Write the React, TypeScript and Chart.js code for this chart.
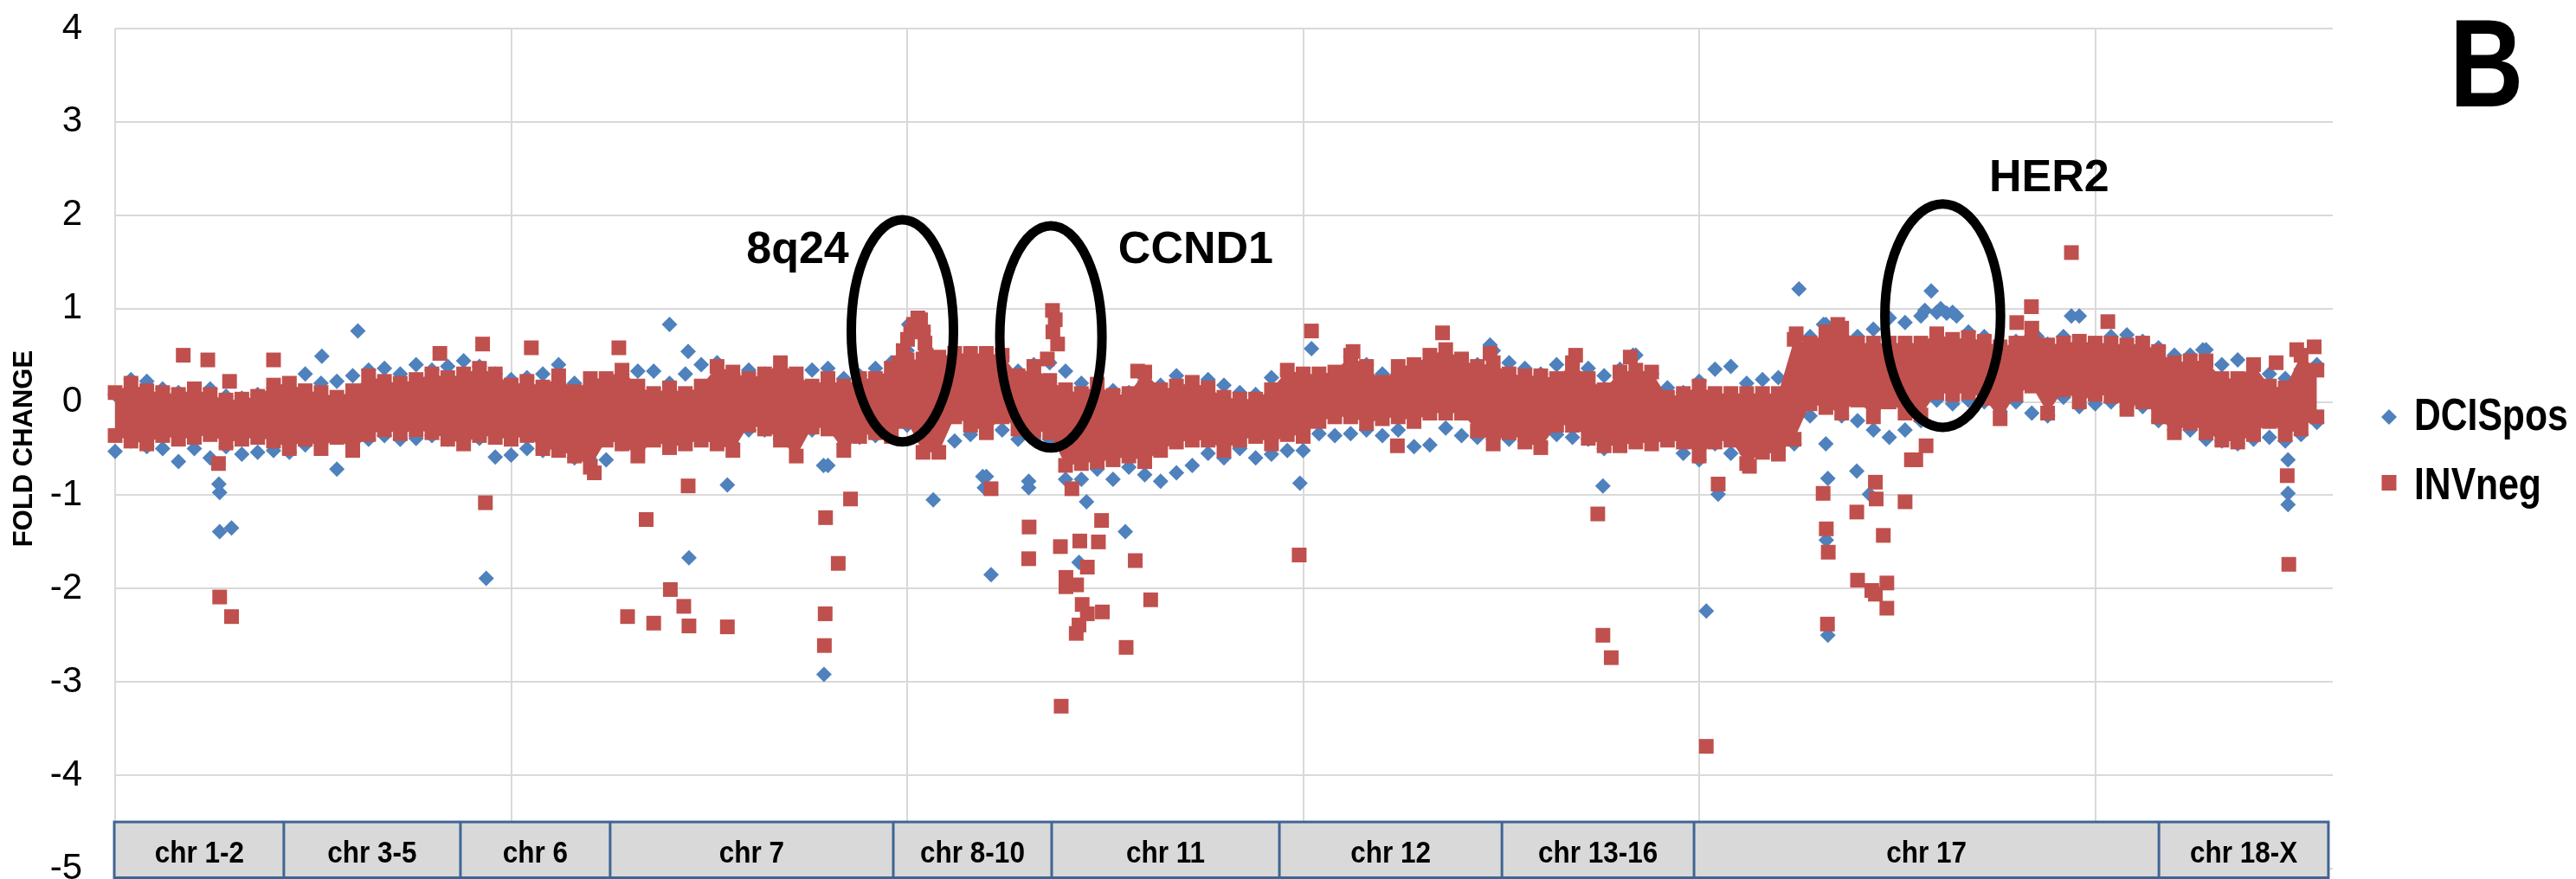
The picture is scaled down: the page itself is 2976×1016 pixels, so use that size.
import React, { useEffect, useRef } from 'react';
import { Chart, registerables } from 'chart.js';

Chart.register(...registerables);

// ---------------- data ----------------
const X_MAX = 5600;
const X_GRID = [0, 1000, 2000, 3000, 4000, 5000];
const Y_MIN = -5;
const Y_MAX = 4;
const BAND_STEP = 40; // probe-index spacing of the band samples below

// INVneg dense band: upper / lower edge samples (every 40 probes, from probe 0)
const INV_UPPER = [
  0.10, 0.20, 0.12, 0.10, 0.08, 0.14, 0.08, 0.02, 0.03, 0.06, 0.18, 0.20, 0.12, 0.10, 0.05, 0.12, 0.28, 0.22, 0.20, 0.24, 0.30, 0.26, 0.30, 0.36, 0.30, 0.18, 0.22, 0.16, 0.28,
  0.11, 0.25, 0.25, 0.34, 0.17, 0.09, 0.15, 0.09, 0.17, 0.38, 0.32, 0.25, 0.30, 0.42, 0.30, 0.17, 0.25, 0.17, 0.25, 0.25, 0.36, 0.45, 0.46, 0.48, 0.52, 0.52, 0.52, 0.50,
  0.28, 0.38, 0.23, 0.13, 0.09, 0.19, 0.07, 0.09, 0.32, 0.13, 0.17, 0.21, 0.15, 0.05, 0.03, 0.03, 0.13, 0.34, 0.30, 0.30, 0.32, 0.50, 0.38, 0.21, 0.38, 0.40, 0.50, 0.56, 0.46,
  0.38, 0.42, 0.30, 0.28, 0.28, 0.25, 0.42, 0.25, 0.13, 0.32, 0.34, 0.32, 0.05, 0.09, 0.17, 0.09, 0.09, 0.09, 0.09, 0.09, 0.67, 0.63, 0.75, 0.79, 0.63, 0.63, 0.63, 0.63,
  0.63, 0.73, 0.67, 0.69, 0.65, 0.59, 0.63, 0.79, 0.61, 0.63, 0.65, 0.63, 0.63, 0.61, 0.63, 0.54, 0.42, 0.44, 0.44, 0.25, 0.25, 0.40, 0.17, 0.15, 0.50, 0.34,
];
const INV_LOWER = [
  -0.36, -0.42, -0.45, -0.36, -0.40, -0.38, -0.35, -0.44, -0.40, -0.38, -0.42, -0.50, -0.40, -0.50, -0.38, -0.52, -0.35, -0.30, -0.34, -0.30, -0.33, -0.40, -0.45, -0.36, -0.38, -0.40, -0.36, -0.50, -0.52,
  -0.58, -0.70, -0.41, -0.45, -0.58, -0.41, -0.49, -0.45, -0.41, -0.45, -0.52, -0.25, -0.29, -0.41, -0.58, -0.27, -0.29, -0.52, -0.37, -0.33, -0.37, -0.21, -0.54, -0.54, -0.16, -0.25, -0.33, -0.16,
  -0.29, -0.31, -0.33, -0.68, -0.66, -0.64, -0.62, -0.58, -0.64, -0.52, -0.43, -0.41, -0.41, -0.52, -0.41, -0.37, -0.45, -0.35, -0.37, -0.21, -0.16, -0.16, -0.23, -0.18, -0.16, -0.21, -0.12, -0.12, -0.12,
  -0.31, -0.45, -0.33, -0.43, -0.49, -0.25, -0.25, -0.39, -0.47, -0.47, -0.43, -0.45, -0.41, -0.43, -0.58, -0.43, -0.41, -0.66, -0.54, -0.56, -0.40, -0.02, -0.06, -0.12, 0.02, -0.16, 0.00, -0.12,
  -0.14, 0.10, 0.08, 0.10, 0.04, -0.18, 0.08, 0.17, -0.12, 0.13, 0.00, 0.08, 0.06, -0.08, 0.00, -0.16, -0.33, -0.23, -0.33, -0.41, -0.43, -0.35, -0.21, -0.35, -0.29, -0.16,
];

// DCISpos dense band: upper / lower edge samples (same probe spacing)
const DCIS_UPPER = [
  0.08, 0.24, 0.22, 0.14, 0.10, 0.06, 0.14, 0.06, 0.04, 0.08, 0.15, 0.12, 0.30, 0.20, 0.22, 0.28, 0.34, 0.36, 0.30, 0.40, 0.34, 0.38, 0.44, 0.38, 0.30, 0.24, 0.26, 0.30, 0.40,
  0.20, 0.10, 0.18, 0.30, 0.33, 0.33, 0.20, 0.30, 0.40, 0.42, 0.30, 0.34, 0.30, 0.30, 0.25, 0.34, 0.36, 0.25, 0.28, 0.36, 0.42, 0.55, 0.70, 0.45, 0.45, 0.45, 0.45, 0.48,
  0.33, 0.40, 0.42, 0.33, 0.20, 0.10, 0.12, 0.10, 0.22, 0.18, 0.28, 0.18, 0.24, 0.18, 0.10, 0.08, 0.26, 0.30, 0.28, 0.28, 0.24, 0.48, 0.40, 0.30, 0.30, 0.36, 0.40, 0.40, 0.44,
  0.40, 0.55, 0.42, 0.36, 0.30, 0.40, 0.40, 0.36, 0.28, 0.35, 0.50, 0.30, 0.15, 0.10, 0.22, 0.35, 0.38, 0.20, 0.24, 0.26, 0.30, 0.70, 0.83, 0.70, 0.70, 0.78, 0.90, 0.85,
  0.92, 0.96, 0.96, 0.75, 0.70, 0.62, 0.65, 0.70, 0.62, 0.70, 0.92, 0.60, 0.70, 0.72, 0.65, 0.58, 0.50, 0.50, 0.56, 0.40, 0.45, 0.38, 0.30, 0.25, 0.35, 0.40,
];
const DCIS_LOWER = [
  -0.53, -0.42, -0.48, -0.50, -0.64, -0.50, -0.60, -0.48, -0.56, -0.54, -0.52, -0.54, -0.46, -0.44, -0.72, -0.44, -0.40, -0.36, -0.40, -0.39, -0.36, -0.40, -0.42, -0.39, -0.59, -0.57, -0.50, -0.52, -0.48,
  -0.60, -0.62, -0.62, -0.45, -0.50, -0.40, -0.45, -0.42, -0.40, -0.40, -0.45, -0.30, -0.30, -0.40, -0.38, -0.30, -0.68, -0.45, -0.38, -0.36, -0.36, -0.25, -0.24, -0.25, -0.42, -0.35, -0.80, -0.30,
  -0.40, -0.40, -0.40, -0.83, -0.83, -0.72, -0.83, -0.70, -0.78, -0.85, -0.76, -0.68, -0.55, -0.60, -0.50, -0.60, -0.56, -0.52, -0.52, -0.34, -0.36, -0.34, -0.30, -0.36, -0.30, -0.48, -0.46, -0.28, -0.36,
  -0.38, -0.40, -0.40, -0.42, -0.45, -0.35, -0.38, -0.40, -0.50, -0.45, -0.40, -0.20, -0.40, -0.55, -0.62, -0.45, -0.55, -0.55, -0.52, -0.45, -0.45, -0.15, -0.45, -0.15, -0.20, -0.30, -0.38, -0.30,
  -0.20, 0.02, -0.02, 0.02, 0.00, -0.10, 0.00, -0.12, -0.15, 0.05, -0.05, -0.02, 0.00, -0.05, -0.05, -0.20, -0.30, -0.30, -0.40, -0.42, -0.45, -0.40, -0.38, -0.42, -0.35, -0.22,
];

// individual INVneg probes outside the band (probe index, fold change)
const INV_POINTS: [number, number][] = [
  [172, 0.50], [234, 0.45], [289, 0.22], [400, 0.45], [261, -0.66], [264, -2.09], [294, -2.30], [935, -1.08], [820, 0.52], [928, 0.62], [1051, 0.58],
  [1447, -0.90], [1341, -1.26], [1402, -2.01], [1294, -2.30], [1360, -2.37], [1436, -2.19], [1449, -2.40], [1546, -2.41], [1857, -1.04], [1794, -1.24],
  [1826, -1.73], [1793, -2.27], [1791, -2.61], [2212, -0.93], [1210, -0.76], [1272, 0.58],
  [1979, 0.42], [1990, 0.55], [2001, 0.67], [2009, 0.75], [2016, 0.83], [2027, 0.90], [2034, 0.88], [2041, 0.75], [2045, 0.63], [2048, 0.50], [2052, 0.42],
  [2354, 0.46], [2367, 0.98], [2374, 0.88], [2368, 0.75], [2380, 0.62],
  [2416, -0.93], [2308, -1.34], [2307, -1.68], [2387, -1.55], [2436, -1.49], [2483, -1.50], [2491, -1.27], [2455, -1.77], [2401, -1.88], [2428, -1.96],
  [2401, -1.98], [2442, -2.17], [2455, -2.27], [2493, -2.25], [2434, -2.39], [2427, -2.48], [2576, -1.70], [2615, -2.12], [2553, -2.63], [2389, -3.26],
  [2990, -1.64], [3021, 0.76], [3352, 0.74], [3238, -0.47], [3126, 0.54], [2582, 0.33],
  [3744, -1.20], [3757, -2.50], [3778, -2.74], [4048, -0.88], [4127, -0.69], [4018, -3.69], [4313, -0.98], [4321, -1.36], [4326, -1.61], [4324, -2.38],
  [4398, -1.18], [4400, -1.91], [4436, -2.02], [4445, -2.06], [4474, -1.94], [4474, -2.21], [4445, -0.86], [4447, -1.04], [4465, -1.43], [4520, -1.07],
  [4536, -0.62], [4245, 0.73], [4350, 0.83], [3688, 0.50], [3826, 0.48], [3472, 0.52],
  [5485, -0.79], [5489, -1.74], [4573, -0.47], [4547, -0.62], [4940, 1.60], [4839, 1.02], [4802, 0.85], [5032, 0.86], [5457, 0.42], [5553, 0.59], [5509, 0.56],
];

// individual DCISpos probes outside the band
const DCIS_POINTS: [number, number][] = [
  [613, 0.76], [522, 0.49], [262, -0.88], [264, -0.97], [264, -1.39], [294, -1.35], [937, -1.89],
  [1546, -0.89], [1449, -1.67], [1790, -2.92], [2066, -1.05], [2212, -1.85], [1789, -0.68], [1400, 0.83], [1447, 0.54], [2004, 0.83], [2020, 0.86], [2041, 0.76],
  [2191, -0.80], [2195, -0.92],
  [2307, -0.85], [2307, -0.92], [2434, -1.72], [2453, -1.07], [2551, -1.39], [2992, -0.87], [3021, 0.57],
  [3757, -0.90], [4048, -0.99], [4325, -0.82], [4398, -0.74], [4430, -0.99], [4321, -1.48], [4325, -2.50], [4018, -2.24], [4252, 1.21], [3472, 0.61],
  [3833, 0.50], [4314, 0.83],
  [4586, 1.19], [4570, 0.98], [4610, 1.00], [4625, 0.95], [4650, 0.92], [4853, 0.70], [4940, 0.92], [5272, 0.56], [5487, -0.62], [5487, -0.98], [5487, -1.10],
];

// chromosome groups along the probe axis
const CHR_LABELS = ['chr 1-2', 'chr 3-5', 'chr 6', 'chr 7', 'chr 8-10', 'chr 11', 'chr 12', 'chr 13-16', 'chr 17', 'chr 18-X'];
const CHR_BOUNDS = [0, 426, 872, 1250, 1965, 2365, 2940, 3502, 3987, 5161, 5589];

const SERIES_NAMES = ['DCISpos', 'INVneg'];
const HIGHLIGHT_LABELS = ['8q24', 'CCND1', 'HER2'];
const PANEL_LETTER = 'B';

// ---------------- styling / layout ----------------
const RED = '#C0504D';
const BLUE = '#4F81BD';
const GRID = '#D9D9D9';
const FONT = "'Liberation Sans', Arial, Helvetica, sans-serif";

// highlight ellipses (data coords, radii in data units) and their label anchors
const HIGHLIGHT_SHAPES = [
  { cx: 1988, cy: 0.762, rx: 129, ry: 1.19, lx: 1594, ly: 1.487 },
  { cx: 2363, cy: 0.697, rx: 129, ry: 1.19, lx: 2533, ly: 1.487 },
  { cx: 4615, cy: 0.924, rx: 146, ry: 1.196, lx: 4732, ly: 2.254 },
];

const band = (ys: number[]) => ys.map((y, i) => ({ x: i * BAND_STEP, y }));
const pts = (arr: [number, number][]) => arr.map(([x, y]) => ({ x, y }));

const overlayPlugin = {
  id: 'overlay',
  afterDraw(chart: any) {
    const { ctx, chartArea, scales } = chart;
    const xs = scales.x;
    const ys = scales.y;
    ctx.save();

    // chromosome strip
    const top = ys.getPixelForValue(-4.5);
    const bottom = chart.height - 1.5;
    const x0 = xs.getPixelForValue(CHR_BOUNDS[0]) - 1;
    const x1 = xs.getPixelForValue(CHR_BOUNDS[CHR_BOUNDS.length - 1]);
    ctx.fillStyle = '#D9D9D9';
    ctx.fillRect(x0, top, x1 - x0, bottom - top);
    ctx.strokeStyle = '#3F6594';
    ctx.lineWidth = 3;
    ctx.strokeRect(x0, top, x1 - x0, bottom - top);
    for (let i = 1; i < CHR_BOUNDS.length - 1; i++) {
      const px = xs.getPixelForValue(CHR_BOUNDS[i]);
      ctx.beginPath();
      ctx.moveTo(px, top);
      ctx.lineTo(px, bottom);
      ctx.stroke();
    }
    ctx.fillStyle = '#000';
    ctx.font = `bold 35px ${FONT}`;
    ctx.textAlign = 'center';
    ctx.textBaseline = 'alphabetic';
    CHR_LABELS.forEach((label, i) => {
      const cx = (xs.getPixelForValue(CHR_BOUNDS[i]) + xs.getPixelForValue(CHR_BOUNDS[i + 1])) / 2;
      ctx.save();
      ctx.translate(cx, top + 47);
      ctx.scale(0.9, 1);
      ctx.fillText(label, 0, 0);
      ctx.restore();
    });

    // highlight ellipses and labels
    ctx.strokeStyle = '#000';
    ctx.lineWidth = 11;
    HIGHLIGHT_SHAPES.forEach((h, i) => {
      const cx = xs.getPixelForValue(h.cx);
      const cy = ys.getPixelForValue(h.cy);
      const rx = Math.abs(xs.getPixelForValue(h.cx + h.rx) - cx);
      const ry = Math.abs(ys.getPixelForValue(h.cy + h.ry) - cy);
      ctx.beginPath();
      ctx.ellipse(cx, cy, rx, ry, 0, 0, Math.PI * 2);
      ctx.stroke();
      ctx.font = `bold 52px ${FONT}`;
      ctx.textAlign = 'left';
      ctx.fillStyle = '#000';
      ctx.fillText(HIGHLIGHT_LABELS[i], xs.getPixelForValue(h.lx), ys.getPixelForValue(h.ly));
    });

    // legend
    const mx = chartArea.right + 65;
    const tx = chartArea.right + 94;
    ctx.fillStyle = BLUE;
    ctx.beginPath();
    ctx.moveTo(mx, 482 - 9);
    ctx.lineTo(mx + 9, 482);
    ctx.lineTo(mx, 482 + 9);
    ctx.lineTo(mx - 9, 482);
    ctx.closePath();
    ctx.fill();
    ctx.fillStyle = RED;
    ctx.fillRect(mx - 8.5, 549, 17, 18);
    ctx.fillStyle = '#000';
    ctx.font = `bold 52px ${FONT}`;
    ctx.textAlign = 'left';
    [[SERIES_NAMES[0], 497], [SERIES_NAMES[1], 577]].forEach(([t, y]) => {
      ctx.save();
      ctx.translate(tx, y as number);
      ctx.scale(0.82, 1);
      ctx.fillText(t as string, 0, 0);
      ctx.restore();
    });

    // panel letter
    ctx.font = `bold 144px ${FONT}`;
    ctx.save();
    ctx.translate(2830, 123);
    ctx.scale(0.82, 1);
    ctx.fillText(PANEL_LETTER, 0, 0);
    ctx.restore();

    ctx.restore();
  },
};

export default function App() {
  const ref = useRef<HTMLCanvasElement | null>(null);

  useEffect(() => {
    if (!ref.current) return;
    const pointCommon = { showLine: false, pointBorderWidth: 0, clip: false as any };
    const chart = new Chart(ref.current, {
      type: 'line',
      data: {
        datasets: [
          { label: 'INVneg', data: pts(INV_POINTS), pointStyle: 'rect', pointRadius: 12, pointBackgroundColor: RED, order: 1, ...pointCommon },
          { label: 'INVneg band top', data: band(INV_UPPER), showLine: true, borderWidth: 0, borderColor: 'rgba(0,0,0,0)', backgroundColor: RED, fill: 2,
            pointStyle: 'rect', pointRadius: 12, pointBackgroundColor: RED, pointBorderWidth: 0, order: 2, clip: false as any },
          { label: 'INVneg band bottom', data: band(INV_LOWER), showLine: true, borderWidth: 0, borderColor: 'rgba(0,0,0,0)', fill: false,
            pointStyle: 'rect', pointRadius: 12, pointBackgroundColor: RED, pointBorderWidth: 0, order: 3, clip: false as any },
          { label: 'DCISpos', data: pts(DCIS_POINTS), pointStyle: 'rectRot', pointRadius: 9, pointBackgroundColor: BLUE, order: 4, ...pointCommon },
          { label: 'DCISpos band top', data: band(DCIS_UPPER), pointStyle: 'rectRot', pointRadius: 9, pointBackgroundColor: BLUE, order: 5, ...pointCommon },
          { label: 'DCISpos band bottom', data: band(DCIS_LOWER), pointStyle: 'rectRot', pointRadius: 9, pointBackgroundColor: BLUE, order: 6, ...pointCommon },
        ] as any,
      },
      options: {
        responsive: false,
        animation: false,
        devicePixelRatio: 1,
        layout: { padding: { top: 33, right: 281, bottom: 9, left: 0 } },
        elements: { line: { tension: 0 } },
        plugins: {
          legend: { display: false },
          tooltip: { enabled: false },
          filler: { drawTime: 'beforeDatasetDraw', propagate: false },
        } as any,
        scales: {
          x: {
            type: 'linear',
            min: 0,
            max: X_MAX,
            ticks: { display: false },
            afterBuildTicks: (s: any) => { s.ticks = X_GRID.map((v) => ({ value: v })); },
            grid: { color: GRID, lineWidth: 2, drawTicks: false },
            border: { display: false },
            afterFit: (s: any) => { s.height = 0; },
          },
          y: {
            min: Y_MIN,
            max: Y_MAX,
            ticks: { stepSize: 1, color: '#000', padding: 38, font: { family: FONT, size: 42 } },
            grid: { color: GRID, lineWidth: 2, drawTicks: false },
            border: { display: false },
            title: {
              display: true,
              text: 'FOLD CHANGE',
              color: '#000',
              font: { family: FONT, size: 31, weight: 'bold' },
              padding: { top: 10, bottom: 0 },
            },
            afterFit: (s: any) => { s.width = 133; s.paddingTop = 0; s.paddingBottom = 0; },
          },
        } as any,
      },
      plugins: [overlayPlugin],
    });
    return () => chart.destroy();
  }, []);

  return (
    <div style={{ position: 'absolute', left: 0, top: 0, width: 2976, height: 1016, background: '#fff' }}>
      <canvas ref={ref} width={2976} height={1016} style={{ display: 'block' }} />
    </div>
  );
}
